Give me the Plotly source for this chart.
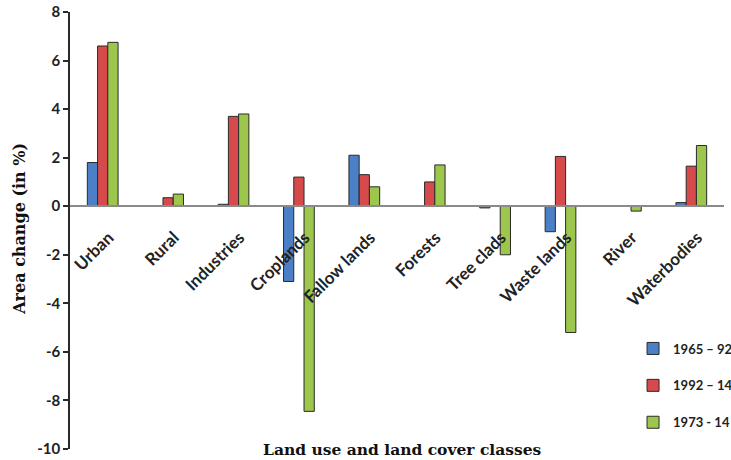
import plotly.graph_objects as go

categories = ["Urban", "Rural", "Industries", "Croplands", "Fallow lands",
              "Forests", "Tree clads", "Waste lands", "River", "Waterbodies"]
change_1965_92 = [1.8, 0.02, 0.08, -3.1, 2.1, 0.0, -0.07, -1.05, 0.0, 0.15]
change_1992_14 = [6.6, 0.35, 3.7, 1.2, 1.3, 1.0, 0.0, 2.05, 0.0, 1.65]
change_1973_14 = [6.75, 0.5, 3.8, -8.45, 0.8, 1.7, -2.0, -5.2, -0.2, 2.5]
y_ticks = [-10, -8, -6, -4, -2, 0, 2, 4, 6, 8]

series = [
    ("1965 \u2013 92", change_1965_92, "#4b7fc6"),
    ("1992 \u2013 14", change_1992_14, "#d64a4c"),
    ("1973 - 14", change_1973_14, "#9cc74c"),
]

y_min, y_max = -10, 8

fig = go.Figure()
for i, (name, vals, color) in enumerate(series):
    fig.add_trace(go.Bar(
        x=categories, y=vals, name=name, legendgroup=f"g{i}",
        marker=dict(color=color, line=dict(color="#2a2a2a", width=1)),
    ))

sans = "Lato, 'Open Sans', sans-serif"
serif = "'DejaVu Serif', serif"

fig.update_layout(
    width=731, height=460,
    margin=dict(l=70, r=7, t=12, b=11, autoexpand=False),
    paper_bgcolor="white", plot_bgcolor="white",
    barmode="group", bargap=0.53, bargroupgap=0,
    showlegend=True,
    legend=dict(
        xref="container", yref="container",
        x=0.866, y=0.275, xanchor="left", yanchor="top",
        font=dict(family=sans, size=13, color="#222222", weight="bold"),
        tracegroupgap=17, bgcolor="rgba(0,0,0,0)", itemwidth=30,
    ),
    xaxis=dict(
        anchor="free", position=(0 - y_min) / (y_max - y_min),
        showline=True, linecolor="#8a8a8a", linewidth=1.5,
        ticks="", tickangle=-45, ticklabelstandoff=14, ticklabelshift=6,
        tickfont=dict(family=sans, size=17, color="#222222", weight="bold"),
        showgrid=False, zeroline=False,
    ),
    yaxis=dict(
        range=[y_min, y_max],
        tickmode="array", tickvals=y_ticks, ticktext=[str(v) for v in y_ticks],
        showline=True, linecolor="#2a2a2a", linewidth=1.5,
        ticks="outside", ticklen=5, tickwidth=1.5, tickcolor="#2a2a2a",
        tickfont=dict(family=sans, size=15, color="#222222", weight="bold"),
        showgrid=False, zeroline=False,
    ),
    annotations=[
        dict(text="Area change (in %)", xref="paper", yref="paper",
             x=-0.077, y=0.503, textangle=-90, showarrow=False,
             xanchor="center", yanchor="middle",
             font=dict(family=serif, size=16, color="#111111", weight="bold")),
        dict(text="Land use and land cover classes", xref="paper", yref="paper",
             x=0.509, y=0.0, showarrow=False, xanchor="center", yanchor="middle",
             font=dict(family=serif, size=15.5, color="#111111", weight="bold")),
    ],
)

fig.write_html("out.html")
